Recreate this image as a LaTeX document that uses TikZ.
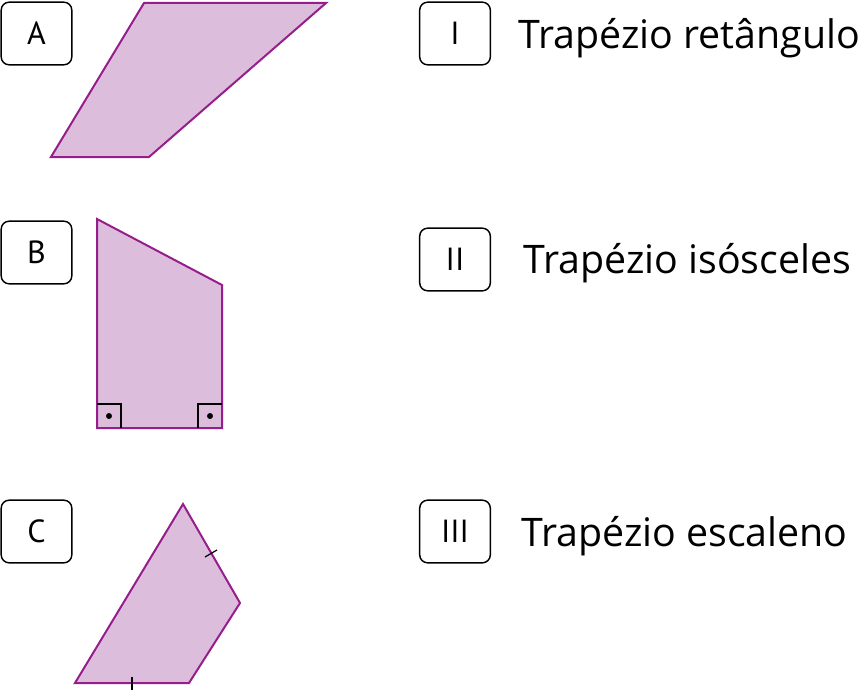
\documentclass[tikz,border=0pt]{standalone}
\usepackage{fontspec}
\setmainfont{Open Sans}
\newfontfamily\boxfont{PT Sans}
\usepackage{tikz}

\definecolor{trapfill}{RGB}{220,190,220}
\definecolor{trapline}{RGB}{150,30,140}

\tikzset{
  letterbox/.style={draw, line width=1.1pt, rounded corners=6pt,
    minimum width=53pt, minimum height=47pt, inner sep=0pt, font=\boxfont\fontsize{24}{26}\selectfont},
  kindlabel/.style={anchor=base west, inner sep=0pt, font=\fontsize{29.5}{32}\selectfont},
  trap/.style={fill=trapfill, draw=trapline, line width=1.5pt, line join=miter}
}

\begin{document}
\begin{tikzpicture}[x=0.75pt,y=-0.75pt]
        \useasboundingbox (0,0) rectangle (864,692);

        % letter boxes
        \node[letterbox] (A) at (36.5,33.5) {A};
        \node[letterbox] (B) at (36.5,252.5) {B};
        \node[letterbox] (C) at (36.5,531.5) {C};
        \node[letterbox] (I) at (455,33.5) {I};
        \node[letterbox] (II) at (455,259.5) {II};
        \node[letterbox] (III) at (455,531.5) {III};

        % names
        \node[kindlabel] (retangulo) at (518,49) {Trapézio retângulo};
        \node[kindlabel] (isosceles) at (523,273) {Trapézio isósceles};
        \node[kindlabel] (escaleno) at (521,546) {Trapézio escaleno};

        % A
        \filldraw[trap] (51,157) -- (144,3) -- (326,3) -- (149,157) -- cycle;

        % B
        \filldraw[trap] (97,219) -- (222,285) -- (222,428) -- (97,428) -- cycle;
        \draw[line width=0.9pt] (97,404) -- (121,404) -- (121,428);
        \draw[line width=0.9pt] (222,404) -- (198,404) -- (198,428);
        \filldraw (109,416) circle (2pt);
        \filldraw (210,416) circle (2pt);

        % C
        \filldraw[trap] (183,504) -- (240,603) -- (189,683) -- (75,683) -- cycle;
        \draw[line width=0.9pt] (205,557) -- (217,550);
        \draw[line width=0.9pt] (132,677) -- (132,690);
    \end{tikzpicture}
\end{document}
